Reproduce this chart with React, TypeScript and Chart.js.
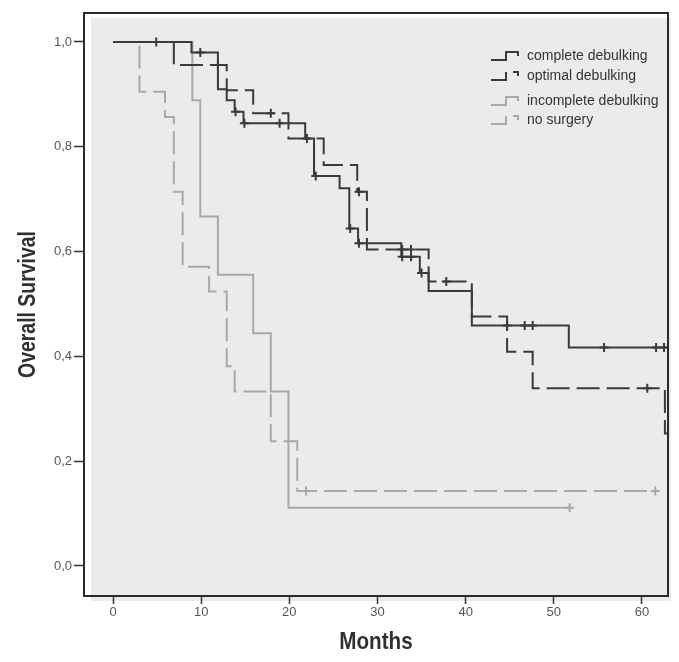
import React, { useEffect, useRef } from 'react';
import { Chart, registerables } from 'chart.js';

Chart.register(...registerables);

// ---------- axis ticks ----------
const X_TICKS = [0, 10, 20, 30, 40, 50, 60];
const Y_TICKS = [0, 0.2, 0.4, 0.6, 0.8, 1.0];
const Y_TICK_LABELS = ['0,0', '0,2', '0,4', '0,6', '0,8', '1,0'];
const X_TITLE = 'Months';
const Y_TITLE = 'Overall Survival';

// ---------- legend / series names ----------
const SERIES_NAMES = ['complete debulking', 'optimal debulking', 'incomplete debulking', 'no surgery'];

// ---------- complete debulking (solid dark) ----------
const completeTimes = [0, 8.9, 11.9, 12.9, 13.8, 14.8, 21.8, 22.8, 25.7, 26.8, 27.8, 32.7, 34.8, 35.8, 40.7, 51.7, 63.0];
const completeSurv = [1.0, 0.98, 0.91, 0.889, 0.867, 0.845, 0.816, 0.744, 0.721, 0.644, 0.616, 0.59, 0.559, 0.525, 0.459, 0.417, 0.417];
const completeCensorTimes = [4.9, 9.9, 13.9, 14.9, 18.9, 22.0, 23.0, 26.9, 27.9, 32.8, 33.8, 35.0, 44.7, 46.7, 47.6, 55.7, 61.6, 62.5];
const completeCensorSurv = [1.0, 0.98, 0.867, 0.845, 0.845, 0.816, 0.744, 0.644, 0.616, 0.59, 0.59, 0.559, 0.459, 0.459, 0.459, 0.417, 0.417, 0.417];

// ---------- optimal debulking (dashed dark) ----------
const optimalTimes = [0, 6.9, 12.9, 15.9, 19.9, 23.9, 27.7, 28.8, 35.8, 40.7, 44.7, 47.6, 62.6, 63.0];
const optimalSurv = [1.0, 0.956, 0.908, 0.864, 0.816, 0.765, 0.714, 0.604, 0.543, 0.476, 0.409, 0.339, 0.253, 0.253];
const optimalCensorTimes = [11.9, 17.9, 27.9, 32.8, 33.8, 37.8, 60.6];
const optimalCensorSurv = [0.956, 0.864, 0.714, 0.604, 0.604, 0.543, 0.339];

// ---------- incomplete debulking (solid grey) ----------
const incompleteTimes = [0, 9.0, 9.9, 11.9, 15.9, 17.9, 19.9, 51.8];
const incompleteSurv = [1.0, 0.889, 0.667, 0.556, 0.444, 0.333, 0.111, 0.111];
const incompleteCensorTimes = [51.8];
const incompleteCensorSurv = [0.111];

// ---------- no surgery (dashed grey) ----------
const noSurgeryTimes = [0, 3.0, 5.9, 6.9, 7.9, 10.9, 12.9, 13.8, 17.9, 20.9, 61.8];
const noSurgerySurv = [1.0, 0.905, 0.857, 0.714, 0.571, 0.524, 0.381, 0.333, 0.238, 0.143, 0.143];
const noSurgeryCensorTimes = [21.9, 61.5];
const noSurgeryCensorSurv = [0.143, 0.143];

const DARK = '#3a3a3a';
const GREY = '#a8a8a8';
const DASH = [23, 7];
const FONT = "'Liberation Sans', Arial, sans-serif";

const zip = (xs: number[], ys: number[]) => xs.map((x, i) => ({ x, y: ys[i] }));

const lineSet = (label: string, xs: number[], ys: number[], color: string, dashed: boolean) => ({
  label,
  data: zip(xs, ys),
  borderColor: color,
  backgroundColor: color,
  borderWidth: 2,
  borderDash: dashed ? DASH : [],
  stepped: 'before' as const,
  pointRadius: 0,
  fill: false,
  tension: 0,
});

const censorSet = (label: string, xs: number[], ys: number[], color: string) => ({
  label,
  data: zip(xs, ys),
  showLine: false,
  borderColor: color,
  backgroundColor: color,
  pointStyle: 'cross' as const,
  pointRadius: 4.5,
  pointBorderWidth: 2,
  pointBorderColor: color,
});

const bgPlugin = {
  id: 'kmBackground',
  beforeDraw(chart: any) {
    const { ctx, chartArea } = chart;
    const { left, top, right, bottom } = chartArea;
    ctx.save();
    ctx.fillStyle = '#ffffff';
    ctx.fillRect(0, 0, chart.width, chart.height);
    ctx.fillStyle = '#ebebeb';
    ctx.fillRect(left + 7, top + 5, right - left - 4, bottom - top);
    ctx.restore();
  },
};

const framePlugin = {
  id: 'kmFrame',
  afterDatasetsDraw(chart: any) {
    const { ctx, chartArea } = chart;
    const { left, top, right, bottom } = chartArea;
    ctx.save();
    ctx.strokeStyle = '#2a2a2a';
    ctx.lineWidth = 2;
    ctx.setLineDash([]);
    ctx.strokeRect(left, top, right - left, bottom - top);
    ctx.restore();
  },
};

// axis titles in a condensed bold face (horizontally compressed)
const titlePlugin = {
  id: 'kmTitles',
  afterDraw(chart: any) {
    const { ctx, chartArea } = chart;
    const { left, top, right, bottom } = chartArea;
    ctx.save();
    ctx.font = `bold 24px ${FONT}`;
    ctx.fillStyle = '#303030';
    ctx.textAlign = 'center';
    ctx.textBaseline = 'middle';
    ctx.translate(28, (top + bottom) / 2);
    ctx.rotate(-Math.PI / 2);
    ctx.scale(0.81, 1);
    ctx.fillText(Y_TITLE, 0, 0);
    ctx.restore();

    ctx.save();
    ctx.font = `bold 24px ${FONT}`;
    ctx.fillStyle = '#303030';
    ctx.textAlign = 'center';
    ctx.textBaseline = 'middle';
    ctx.translate((left + right) / 2, 642);
    ctx.scale(0.86, 1);
    ctx.fillText(X_TITLE, 0, 0);
    ctx.restore();
  },
};

const LEGEND_STYLES = [
  { color: DARK, dashed: false, dy: 43 },
  { color: DARK, dashed: true, dy: 63 },
  { color: GREY, dashed: false, dy: 88 },
  { color: GREY, dashed: true, dy: 107 },
];

const legendPlugin = {
  id: 'kmLegend',
  afterDraw(chart: any) {
    const { ctx, chartArea } = chart;
    const { right, top } = chartArea;
    const x0 = right - 177;
    const tx = right - 141;
    ctx.save();
    SERIES_NAMES.forEach((name, i) => {
      const st = LEGEND_STYLES[i];
      const y = top + st.dy;
      ctx.strokeStyle = st.color;
      ctx.lineWidth = 2;
      ctx.setLineDash(st.dashed ? DASH : []);
      ctx.beginPath();
      ctx.moveTo(x0, y + 4);
      ctx.lineTo(x0 + 15, y + 4);
      ctx.lineTo(x0 + 15, y - 4);
      ctx.lineTo(x0 + 27, y - 4);
      ctx.lineTo(x0 + 27, y);
      ctx.stroke();
      ctx.setLineDash([]);
      ctx.fillStyle = '#333333';
      ctx.font = `14px ${FONT}`;
      ctx.textBaseline = 'middle';
      ctx.textAlign = 'left';
      ctx.fillText(name, tx, y);
    });
    ctx.restore();
  },
};

export default function App() {
  const ref = useRef<HTMLCanvasElement | null>(null);

  useEffect(() => {
    if (!ref.current) return;
    Chart.defaults.font.family = FONT;
    const chart = new Chart(ref.current, {
      type: 'line',
      data: {
        datasets: [
          lineSet(SERIES_NAMES[0], completeTimes, completeSurv, DARK, false),
          censorSet(SERIES_NAMES[0] + ' censored', completeCensorTimes, completeCensorSurv, DARK),
          lineSet(SERIES_NAMES[1], optimalTimes, optimalSurv, DARK, true),
          censorSet(SERIES_NAMES[1] + ' censored', optimalCensorTimes, optimalCensorSurv, DARK),
          lineSet(SERIES_NAMES[2], incompleteTimes, incompleteSurv, GREY, false),
          censorSet(SERIES_NAMES[2] + ' censored', incompleteCensorTimes, incompleteCensorSurv, GREY),
          lineSet(SERIES_NAMES[3], noSurgeryTimes, noSurgerySurv, GREY, true),
          censorSet(SERIES_NAMES[3] + ' censored', noSurgeryCensorTimes, noSurgeryCensorSurv, GREY),
        ] as any,
      },
      options: {
        animation: false,
        responsive: false,
        maintainAspectRatio: false,
        events: [],
        layout: { padding: { top: 13, right: 11, left: 0, bottom: 0 } },
        plugins: {
          legend: { display: false },
          tooltip: { enabled: false },
        },
        scales: {
          x: {
            type: 'linear',
            min: -3.29,
            max: 62.95,
            afterFit: (s: any) => {
              s.height = 66;
            },
            afterBuildTicks: (s: any) => {
              s.ticks = X_TICKS.map((v) => ({ value: v }));
            },
            ticks: {
              color: '#555555',
              font: { size: 13 },
              padding: 1,
              maxRotation: 0,
              autoSkip: false,
              callback: (v: any) => String(v),
            },
            grid: {
              drawOnChartArea: false,
              drawTicks: true,
              tickLength: 8,
              tickColor: '#333333',
              tickWidth: 1.5,
            },
            border: { display: false },
            title: { display: false },
          },
          y: {
            type: 'linear',
            min: -0.0573,
            max: 1.0553,
            afterFit: (s: any) => {
              s.width = 84;
            },
            afterBuildTicks: (s: any) => {
              s.ticks = Y_TICKS.map((v) => ({ value: v }));
            },
            ticks: {
              color: '#555555',
              font: { size: 13 },
              padding: 2,
              autoSkip: false,
              callback: (v: any) => {
                let best = 0;
                Y_TICKS.forEach((t, i) => {
                  if (Math.abs(t - v) < Math.abs(Y_TICKS[best] - v)) best = i;
                });
                return Y_TICK_LABELS[best];
              },
            },
            grid: {
              drawOnChartArea: false,
              drawTicks: true,
              tickLength: 10,
              tickColor: '#333333',
              tickWidth: 1.5,
            },
            border: { display: false },
            title: { display: false },
          },
        },
      },
      plugins: [bgPlugin, framePlugin, titlePlugin, legendPlugin],
    } as any);
    return () => chart.destroy();
  }, []);

  return (
    <div style={{ position: 'fixed', left: 0, top: 0, width: 679, height: 662, background: '#fff' }}>
      <canvas ref={ref} width={679} height={662} style={{ width: 679, height: 662, display: 'block' }} />
    </div>
  );
}
